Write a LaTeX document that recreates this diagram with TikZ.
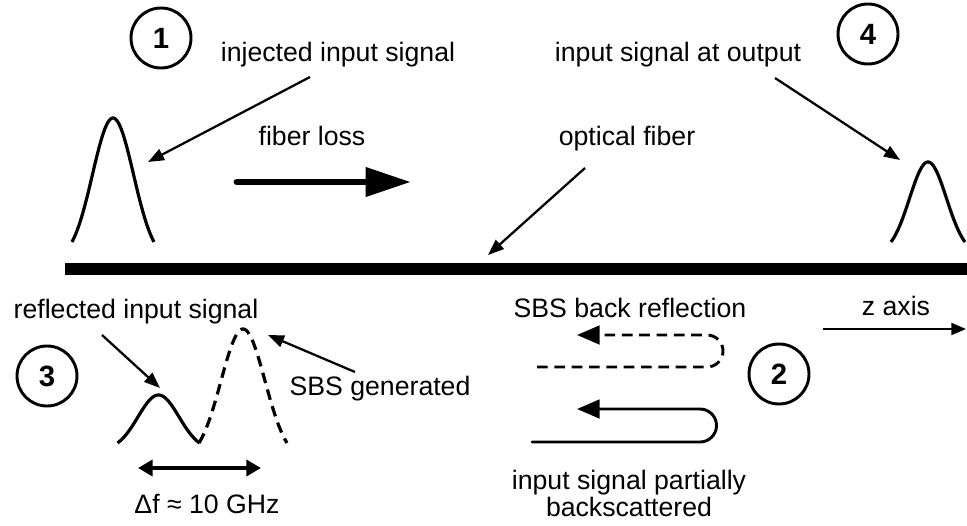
\documentclass[tikz,border=0pt]{standalone}
\usepackage{fontspec}
\setmainfont{Liberation Sans}
\usetikzlibrary{arrows.meta}
\begin{document}
\begin{tikzpicture}[x=0.75pt,y=-0.75pt,
  lbl/.style={font=\fontsize{20}{24}\selectfont, inner sep=0pt, anchor=base},
  num/.style={circle, draw, line width=2.2pt, minimum size=45pt, inner sep=0pt,
              font=\fontsize{22}{22}\selectfont\bfseries},
  pulse/.style={line width=2.4pt, line join=round},
  pointer/.style={line width=1.7pt, -{Triangle[length=12pt,width=9pt]}},
  fiber/.style={line width=9pt},
  backpath/.style={line width=2.2pt, -{Triangle[length=17pt,width=14pt]}},
  dashline/.style={dash pattern=on 8pt off 5pt},
]
\useasboundingbox (0,0) rectangle (967,525);

% numbered circles
\node[num] (n1) at (161,38) {1};
\node[num] (n4) at (868,34) {4};
\node[num] (n3) at (47,376) {3};
\node[num] (n2) at (779,374) {2};

% labels
\node[lbl] (inj)  at (338,61)  {injected input signal};
\node[lbl] (outp) at (678,61)  {input signal at output};
\node[lbl] (loss) at (312,145) {fiber loss};
\node[lbl] (opt)  at (627,145) {optical fiber};
\node[lbl] (refl) at (136,318) {reflected input signal};
\node[lbl] (sbsr) at (630,317) {SBS back reflection};
\node[lbl] (zax)  at (896,315) {z axis};
\node[lbl] (sbsg) at (380,395) {SBS generated};
\node[lbl] (df)   at (207,513) {Δf ≈ 10 GHz};
\node[lbl] (part1) at (629,489) {input signal partially};
\node[lbl] (part2) at (629,516) {backscattered};

% optical fiber
\coordinate (fL) at (65,269);
\coordinate (fR) at (967,269);
\draw[fiber] (fL) -- (fR);

% injected pulse and output pulse
\draw[pulse] plot[domain=-2:2, samples=80]
  ({113+20.5*\x},{242-124*(exp(-\x*\x/2)-0.135)/0.865});
\draw[pulse] plot[domain=-2:2, samples=80]
  ({928+18.5*\x},{242-80*(exp(-\x*\x/2)-0.135)/0.865});

% reflected pulse and SBS generated pulse
\draw[pulse] plot[domain=-2:2, samples=80]
  ({158.5+20.5*\x},{443-48*(exp(-\x*\x/2)-0.135)/0.865});
\draw[pulse, dashline] plot[domain=-2:2, samples=80]
  ({243+22*\x},{443-114*(exp(-\x*\x/2)-0.135)/0.865});

% pointer arrows
\coordinate (injT) at (310,77);
\coordinate (injH) at (148,162);
\draw[pointer] (injT) -- (injH);
\coordinate (outT) at (775,78);
\coordinate (outH) at (900,160);
\draw[pointer] (outT) -- (outH);
\coordinate (optT) at (585,168);
\coordinate (optH) at (488,255);
\draw[pointer] (optT) -- (optH);
\coordinate (refT) at (102,335);
\coordinate (refH) at (160,388);
\draw[pointer] (refT) -- (refH);
\coordinate (genT) at (355,372);
\coordinate (genH) at (268,335);
\draw[pointer] (genT) -- (genH);

% fiber loss arrow
\coordinate (lossT) at (237,182);
\coordinate (lossH) at (411,182);
\draw[line width=5.2pt, line cap=round, -{Triangle[length=34pt,width=21pt]}] (lossT) -- (lossH);

% frequency spacing
\coordinate (dfL) at (138,468);
\coordinate (dfR) at (261,468);
\draw[line width=3pt, {Triangle[length=11pt,width=12pt]}-{Triangle[length=11pt,width=12pt]}] (dfL) -- (dfR);

% z axis
\coordinate (zL) at (823,329);
\coordinate (zR) at (966,329);
\draw[line width=1.5pt, -{Triangle[length=11pt,width=9pt]}] (zL) -- (zR);

% SBS back reflection (dashed) and partial backscatter (solid)
\coordinate (sbsS) at (537,367);
\coordinate (sbsE) at (577,335);
\draw[backpath, dashline]
  (sbsS) -- (707,367) arc[start angle=90, end angle=-90, radius=16] -- (sbsE);
\coordinate (bsS) at (532,442);
\coordinate (bsE) at (577,409);
\draw[backpath, line cap=round]
  (bsS) -- (700,442) arc[start angle=90, end angle=-90, radius=16.5] -- (bsE);
\end{tikzpicture}
\end{document}
